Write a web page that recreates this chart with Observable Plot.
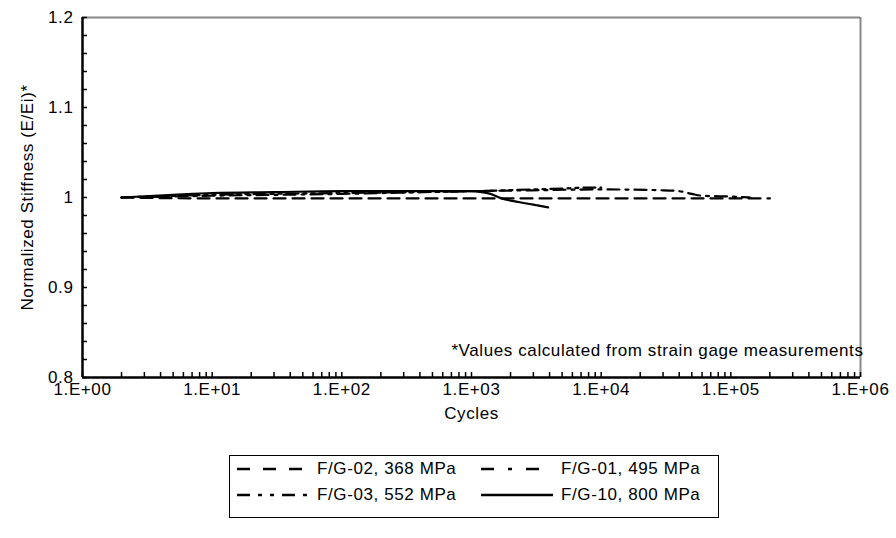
<!DOCTYPE html>
<html>
<head>
<meta charset="utf-8">
<script src="https://cdn.jsdelivr.net/npm/d3@7"></script>
<script src="https://cdn.jsdelivr.net/npm/@observablehq/plot@0.6"></script>
<style>
  html, body { margin: 0; padding: 0; background: #fff; }
  body { width: 896px; height: 538px; position: relative; overflow: hidden; font-family: "Liberation Sans", Arial, sans-serif; }
  #chart svg text { letter-spacing: 0.6px; }
  #legend { position: absolute; left: 229px; top: 455px; width: 490px; height: 63px; border: 1px solid #000; box-sizing: border-box; font-size: 17px; letter-spacing: 0.6px; color: #000; }
  .entry { position: absolute; display: flex; align-items: center; height: 24px; }
  .entry svg { margin-right: 8px; }
</style>
</head>
<body>
<div id="chart"></div>
<div id="legend"></div>
<script>
// ---- data ----
const seriesNames = ["F/G-02, 368 MPa", "F/G-01, 495 MPa", "F/G-03, 552 MPa", "F/G-10, 800 MPa"];
const seriesDash = ["12,7", "12,6,3,6", "12,5,3,5,3,5", null];
const legendDash = ["13,13", "13,14,4,14", "13,8,4,8,4,8", null];

const fg02Cycles = [2, 10, 100, 1000, 10000, 100000, 200000];
const fg02Stiff  = [1.000, 0.999, 0.999, 0.999, 0.999, 0.999, 0.999];

const fg01Cycles = [2, 10, 100, 1000, 3000, 10000, 30000, 40000, 50000, 60000, 100000, 140000];
const fg01Stiff  = [1.000, 1.002, 1.004, 1.007, 1.008, 1.009, 1.008, 1.007, 1.004, 1.002, 1.001, 1.000];

const fg03Cycles = [2, 10, 100, 1000, 3000, 5000, 8000, 10000];
const fg03Stiff  = [1.000, 1.003, 1.005, 1.007, 1.009, 1.010, 1.011, 1.011];

const fg10Cycles = [2, 5, 10, 30, 100, 300, 1000, 1200, 1400, 1700, 2300, 3000, 3900];
const fg10Stiff  = [1.000, 1.003, 1.005, 1.006, 1.007, 1.007, 1.007, 1.006, 1.004, 0.999, 0.995, 0.992, 0.989];

const yTickLabels = [0.8, 0.9, 1, 1.1, 1.2];
const xTickLabels = [1, 10, 100, 1000, 10000, 100000, 1000000];
const note = "*Values calculated from strain gage measurements";

// ---- build table ----
const allCycles = [fg02Cycles, fg01Cycles, fg03Cycles, fg10Cycles];
const allStiff = [fg02Stiff, fg01Stiff, fg03Stiff, fg10Stiff];

const W = 896, H = 430;
const mL = 82, mR = 36, mT = 17, mB = 53;
const pw = W - mL - mR, ph = H - mT - mB;

const yMinor = d3.range(0, 21).map(i => 0.8 + i * 0.02);
const xMinor = [];
for (let d = 0; d < 6; d++) for (let k = 1; k <= 9; k++) xMinor.push(k * Math.pow(10, d));
xMinor.push(1e6);

const lineMarks = allCycles.map((cyc, s) =>
  Plot.line(cyc.map((c, i) => ({c, v: allStiff[s][i]})), {
    x: "c", y: "v", stroke: "#000", strokeWidth: 2.2,
    strokeDasharray: seriesDash[s] || undefined, curve: "monotone-x"
  })
);

const chart = Plot.plot({
  width: W, height: H,
  marginLeft: mL, marginRight: mR, marginTop: mT, marginBottom: mB,
  style: { fontFamily: "Liberation Sans, Arial, sans-serif", fontSize: "17px", color: "#000", background: "#fff" },
  x: { type: "log", domain: [1, 1e6] },
  y: { domain: [0.8, 1.2] },
  marks: [
    // right & top frame (gray)
    Plot.ruleX([1e6], { stroke: "#888", strokeWidth: 2 }),
    Plot.ruleY([1.2], { stroke: "#888", strokeWidth: 2 }),
    ...lineMarks,
    // inside ticks
    Plot.tickY(yMinor, { y: d => d, insetRight: pw - 5, stroke: "#000", strokeWidth: 1.5 }),
    Plot.tickX(xMinor, { x: d => d, insetTop: ph - 5, stroke: "#000", strokeWidth: 1.5 }),
    // left & bottom axis lines
    Plot.ruleX([1], { stroke: "#000", strokeWidth: 2.5 }),
    Plot.ruleY([0.8], { stroke: "#000", strokeWidth: 2.5 }),
    Plot.axisY(yTickLabels, { tickSize: 0, tickPadding: 9, fontSize: 17, tickFormat: d => String(d),
      label: "Normalized Stiffness (E/Ei)*", labelAnchor: "center", labelOffset: 62, labelArrow: "none" }),
    Plot.axisX(xTickLabels, { tickSize: 0, tickPadding: 5, fontSize: 17,
      tickFormat: d => "1.E+" + String(Math.round(Math.log10(d))).padStart(2, "0"),
      label: "Cycles", labelAnchor: "center", labelOffset: 41, labelArrow: "none" }),
    Plot.text([note], { frameAnchor: "bottom-right", dx: 3, dy: -22, textAnchor: "end", fontSize: 17, fill: "#000" })
  ]
});
document.getElementById("chart").appendChild(chart);

// ---- legend ----
const legend = document.getElementById("legend");
const pos = [[7, 0], [251, 0], [7, 26], [251, 26]];
seriesNames.forEach((name, i) => {
  const e = document.createElement("div");
  e.className = "entry";
  e.style.left = pos[i][0] + "px";
  e.style.top = (pos[i][1] + 1) + "px";
  const dash = legendDash[i] ? `stroke-dasharray="${legendDash[i]}"` : "";
  e.innerHTML = `<svg width="72" height="10"><line x1="0" y1="5" x2="72" y2="5" stroke="#000" stroke-width="2.5" ${dash}/></svg><span>${name}</span>`;
  legend.appendChild(e);
});
</script>
</body>
</html>
